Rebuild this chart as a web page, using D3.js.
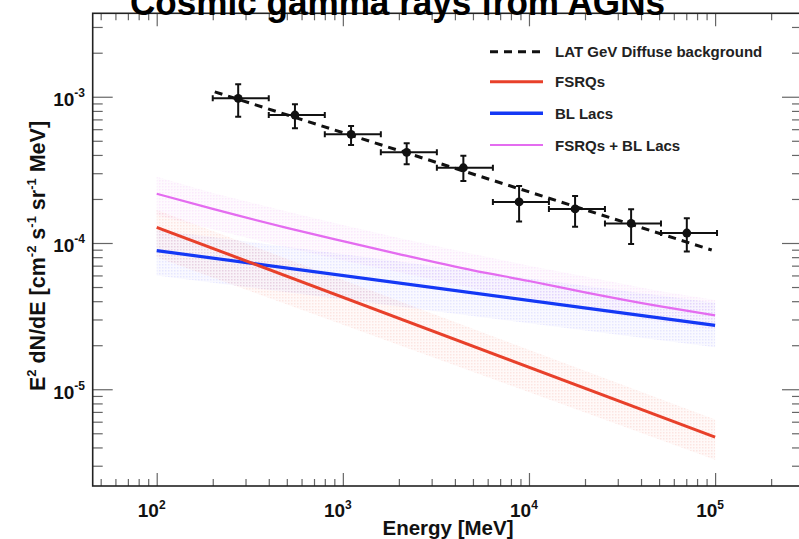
<!DOCTYPE html>
<html>
<head>
<meta charset="utf-8">
<script src="https://cdn.jsdelivr.net/npm/d3@7"></script>
<style>
  body { margin: 0; background: #fff; }
  svg { display: block; font-family: "Liberation Sans", Arial, Helvetica, sans-serif; }
</style>
</head>
<body>
<svg id="chart" width="799" height="539"></svg>
<script>
// ---- data ----
var bandEnergy = [100, 100000];
var fsrqFlux = [1.28e-4, 4.7e-6];
var fsrqUpper = [1.68e-4, 6.2e-6];
var fsrqLower = [8.0e-5, 3.3e-6];
var bllacFlux = [8.87e-5, 2.73e-5];
var bllacUpper = [1.23e-4, 3.9e-5];
var bllacLower = [6.0e-5, 1.94e-5];

var sumEnergy = [100, 200, 500, 1000, 2000, 5000, 10000, 20000, 50000, 100000];
var sumFlux  = [2.17e-4, 1.71e-4, 1.27e-4, 1.03e-4, 8.4e-5, 6.5e-5, 5.5e-5, 4.6e-5, 3.7e-5, 3.2e-5];
var sumUpper = [2.84e-4, 2.2e-4, 1.64e-4, 1.33e-4, 1.08e-4, 8.4e-5, 7.0e-5, 5.9e-5, 4.7e-5, 4.07e-5];
var sumLower = [1.55e-4, 1.24e-4, 9.3e-5, 7.6e-5, 6.3e-5, 4.9e-5, 4.2e-5, 3.5e-5, 2.9e-5, 2.55e-5];

var bgEnergy = [205, 95900];
var bgFlux = [1.08e-3, 8.95e-5];

var pointEnergy = [274, 553, 1107, 2203, 4441, 8850, 17690, 35380, 70470];
var binEdges = [200, 400, 800, 1600, 3200, 6400, 12800, 25600, 51200, 102400];
var pointFlux = [9.75e-4, 7.5e-4, 5.53e-4, 4.17e-4, 3.27e-4, 1.91e-4, 1.71e-4, 1.36e-4, 1.17e-4];
var fluxHigh = [1.216e-3, 8.87e-4, 6.31e-4, 4.8e-4, 3.95e-4, 2.455e-4, 2.095e-4, 1.70e-4, 1.476e-4];
var fluxLow  = [7.3e-4, 6.08e-4, 4.68e-4, 3.45e-4, 2.65e-4, 1.40e-4, 1.29e-4, 9.84e-5, 8.73e-5];

var xTickValues = [1e2, 1e3, 1e4, 1e5];
var xTickExp = ["2", "3", "4", "5"];
var yTickValues = [1e-3, 1e-4, 1e-5];
var yTickExp = ["-3", "-4", "-5"];

var legendNames = ["LAT GeV Diffuse background", "FSRQs", "BL Lacs", "FSRQs + BL Lacs"];
var legendColors = ["#111", "#e8402a", "#1438f5", "#e46cf0"];

// ---- layout ----
var plotL = 92.7, plotR = 802, plotT = 13.3, plotB = 486;
var svg = d3.select("#chart");

var x = d3.scaleLog().domain([45.3, 2.93e5]).range([plotL, plotR]);
var y = d3.scaleLog().domain([2.18e-6, 3.72e-3]).range([plotB, plotT]);

var defs = svg.append("defs");
defs.append("clipPath").attr("id", "plotclip")
    .append("rect").attr("x", plotL).attr("y", plotT)
    .attr("width", plotR - plotL).attr("height", plotB - plotT);

// dotted fill like the ROOT fill style
function dotPattern(id, color, op) {
    var p = defs.append("pattern").attr("id", id)
        .attr("width", 3).attr("height", 3)
        .attr("patternUnits", "userSpaceOnUse");
    p.append("rect").attr("width", 3).attr("height", 3)
        .attr("fill", color).attr("opacity", op * 0.3);
    p.append("rect").attr("width", 1.5).attr("height", 1.5)
        .attr("fill", color).attr("opacity", op);
}
dotPattern("dotRed", "#f08070", 0.16);
dotPattern("dotBlue", "#7878ff", 0.15);
dotPattern("dotMag", "#ea98f2", 0.17);

var plot = svg.append("g").attr("clip-path", "url(#plotclip)");

function band(energy, up, lo, fillId) {
    var area = d3.area()
        .x(function(d) { return x(d); })
        .y0(function(d, i) { return y(lo[i]); })
        .y1(function(d, i) { return y(up[i]); });
    plot.append("path").attr("d", area(energy)).attr("fill", "url(#" + fillId + ")");
}
band(sumEnergy, sumUpper, sumLower, "dotMag");
band(bandEnergy, bllacUpper, bllacLower, "dotBlue");
band(bandEnergy, fsrqUpper, fsrqLower, "dotRed");

function curve(energy, flux, color, w, dash) {
    var line = d3.line()
        .x(function(d) { return x(d); })
        .y(function(d, i) { return y(flux[i]); })
        .curve(d3.curveMonotoneX);
    var p = plot.append("path").attr("d", line(energy))
        .attr("fill", "none").attr("stroke", color).attr("stroke-width", w);
    if (dash) p.attr("stroke-dasharray", dash);
}
curve(sumEnergy, sumFlux, legendColors[3], 2.2);
curve(bandEnergy, bllacFlux, legendColors[2], 3.2);
curve(bandEnergy, fsrqFlux, legendColors[1], 3);
curve(bgEnergy, bgFlux, "#111", 3, "8,6");

// data points with error bars
var pts = plot.append("g").attr("stroke", "#111").attr("stroke-width", 2);
pointEnergy.forEach(function(e, i) {
    var cx = x(e), cy = y(pointFlux[i]);
    var x0 = x(binEdges[i]), x1 = x(binEdges[i + 1]);
    var y0 = y(fluxHigh[i]), y1 = y(fluxLow[i]);
    pts.append("line").attr("x1", x0).attr("x2", x1).attr("y1", cy).attr("y2", cy);
    pts.append("line").attr("x1", cx).attr("x2", cx).attr("y1", y0).attr("y2", y1);
    pts.append("line").attr("x1", x0).attr("x2", x0).attr("y1", cy - 3).attr("y2", cy + 3);
    pts.append("line").attr("x1", x1).attr("x2", x1).attr("y1", cy - 3).attr("y2", cy + 3);
    pts.append("line").attr("x1", cx - 3).attr("x2", cx + 3).attr("y1", y0).attr("y2", y0);
    pts.append("line").attr("x1", cx - 3).attr("x2", cx + 3).attr("y1", y1).attr("y2", y1);
    pts.append("circle").attr("cx", cx).attr("cy", cy).attr("r", 4.4)
        .attr("fill", "#111").attr("stroke", "none");
});

// ---- axes (ticks pointing inward on all four sides) ----
var tickCol = "#666";
function isMajor(v) { return Math.abs(Math.log10(v) - Math.round(Math.log10(v))) < 1e-6; }
var xMinor = x.ticks().filter(function(v) { return !isMajor(v); });
var yMinor = y.ticks().filter(function(v) { return !isMajor(v); });

function drawAxis(axis, tx, ty) {
    var g = svg.append("g").attr("transform", "translate(" + tx + "," + ty + ")").call(axis);
    g.select(".domain").remove();
    g.selectAll(".tick line").attr("stroke", tickCol).attr("stroke-width", 1.2);
    g.selectAll("text").remove();
}
drawAxis(d3.axisBottom(x).tickValues(xMinor).tickSize(-7), 0, plotB);
drawAxis(d3.axisBottom(x).tickValues(xTickValues).tickSize(-13), 0, plotB);
drawAxis(d3.axisTop(x).tickValues(xMinor).tickSize(-7), 0, plotT);
drawAxis(d3.axisTop(x).tickValues(xTickValues).tickSize(-13), 0, plotT);
drawAxis(d3.axisLeft(y).tickValues(yMinor).tickSize(-10), plotL, 0);
drawAxis(d3.axisLeft(y).tickValues(yTickValues).tickSize(-20), plotL, 0);
drawAxis(d3.axisRight(y).tickValues(yMinor).tickSize(-10), plotR, 0);
drawAxis(d3.axisRight(y).tickValues(yTickValues).tickSize(-20), plotR, 0);

svg.append("rect").attr("x", plotL).attr("y", plotT)
    .attr("width", plotR - plotL).attr("height", plotB - plotT)
    .attr("fill", "none").attr("stroke", "#222").attr("stroke-width", 1.6);

// tick labels
xTickValues.forEach(function(v, i) {
    var t = svg.append("text").attr("x", x(v) - 5).attr("y", 517)
        .attr("text-anchor", "middle").attr("font-size", 19).attr("font-weight", "bold")
        .attr("fill", "#111");
    t.append("tspan").text("10");
    t.append("tspan").attr("dy", -8).attr("font-size", 12).text(xTickExp[i]);
});
yTickValues.forEach(function(v, i) {
    var t = svg.append("text").attr("x", 85).attr("y", y(v) + 9.5)
        .attr("text-anchor", "end").attr("font-size", 19).attr("font-weight", "bold")
        .attr("fill", "#111");
    t.append("tspan").text("10");
    t.append("tspan").attr("dy", -9).attr("font-size", 12).text(yTickExp[i]);
});

// axis titles
svg.append("text").attr("x", 448).attr("y", 535)
    .attr("text-anchor", "middle").attr("font-size", 20.5).attr("font-weight", "bold")
    .attr("fill", "#111").text("Energy [MeV]");

var yt = svg.append("text").attr("transform", "translate(45,256) rotate(-90)")
    .attr("text-anchor", "middle").attr("font-size", 21.5).attr("font-weight", "bold")
    .attr("fill", "#111");
var ytParts = [["E", 0], ["2", 1], [" dN/dE [cm", 0], ["-2", 1], [" s", 0], ["-1", 1],
               [" sr", 0], ["-1", 1], [" MeV]", 0]];
var prevSup = 0;
ytParts.forEach(function(p) {
    var ts = yt.append("tspan").text(p[0]);
    if (p[1]) ts.attr("font-size", 13);
    var dy = (p[1] ? -9 : 0) - (prevSup ? -9 : 0);
    if (dy) ts.attr("dy", dy);
    prevSup = p[1];
});

// legend
var legendY = [51.7, 81.7, 113.3, 145];
var legendW = [3, 3, 3.5, 2.2];
legendNames.forEach(function(name, i) {
    var l = svg.append("line").attr("x1", 490).attr("x2", 543)
        .attr("y1", legendY[i]).attr("y2", legendY[i])
        .attr("stroke", legendColors[i]).attr("stroke-width", legendW[i]);
    if (i === 0) l.attr("stroke-dasharray", "8,6");
    svg.append("text").attr("x", 555).attr("y", legendY[i] + 5.5)
        .attr("font-size", 15).attr("font-weight", "bold").attr("fill", "#222")
        .text(name);
});

// title, cut off at the top edge
svg.append("text").attr("x", 397.5).attr("y", 15)
    .attr("text-anchor", "middle")
    .attr("font-family", "'Liberation Sans Narrow', 'Arial Narrow', 'Liberation Sans', sans-serif")
    .attr("font-size", 36).attr("font-weight", "bold").attr("fill", "#000")
    .attr("textLength", 535).attr("lengthAdjust", "spacingAndGlyphs")
    .text("Cosmic gamma rays from AGNs");
</script>
</body>
</html>
